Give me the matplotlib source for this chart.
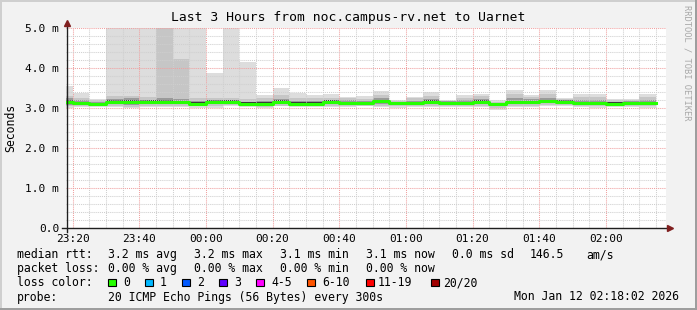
import datetime as dt
import matplotlib
matplotlib.use("Agg")
import matplotlib.pyplot as plt
import matplotlib.dates as mdates
from matplotlib.lines import Line2D
from matplotlib.patches import Rectangle
from matplotlib.ticker import MultipleLocator, FuncFormatter

W, H = 697, 310

# --- Données (ms), une valeur par tranche de 5 minutes à partir de 23:15 ---
debut = dt.datetime(2026, 1, 11, 23, 15)
t_fin = dt.datetime(2026, 1, 12, 2, 18, 2)
t_debut = t_fin - dt.timedelta(hours=3)

median = [3.16, 3.12, 3.11, 3.16, 3.16, 3.16, 3.16, 3.15, 3.11, 3.16, 3.16, 3.11,
          3.11, 3.16, 3.11, 3.11, 3.16, 3.13, 3.12, 3.17, 3.12, 3.12, 3.16, 3.13,
          3.13, 3.16, 3.09, 3.15, 3.14, 3.18, 3.16, 3.12, 3.12, 3.11, 3.12, 3.12]
p_max = [3.55, 3.37, 3.22, 5.5, 5.5, 5.5, 5.5, 5.5, 5.5, 3.87, 5.5, 4.14,
         3.32, 3.50, 3.37, 3.32, 3.34, 3.28, 3.30, 3.42, 3.20, 3.28, 3.40, 3.20,
         3.32, 3.36, 3.20, 3.44, 3.33, 3.45, 3.25, 3.34, 3.35, 3.23, 3.22, 3.34]
p_min = [3.00, 3.02, 3.03, 3.02, 2.99, 3.03, 3.02, 3.03, 3.00, 3.01, 3.05, 3.03,
         2.99, 3.04, 3.02, 3.03, 3.03, 3.03, 3.04, 3.03, 3.01, 3.02, 3.03, 3.02,
         3.02, 3.03, 2.96, 3.03, 3.03, 3.04, 3.04, 3.02, 3.01, 3.02, 3.02, 3.00]
p2_hi = [3.30, 3.24, 3.20, 3.30, 3.30, 3.28, 5.5, 4.22, 3.25, 3.24, 3.24, 3.22,
         3.24, 3.32, 3.26, 3.25, 3.26, 3.24, 3.22, 3.32, 3.18, 3.24, 3.30, 3.18,
         3.24, 3.30, 3.16, 3.34, 3.28, 3.34, 3.22, 3.27, 3.28, 3.20, 3.20, 3.28]
p2_lo = [3.05, 3.05, 3.05, 3.05, 3.03, 3.06, 3.05, 3.06, 3.04, 3.05, 3.07, 3.06,
         3.02, 3.06, 3.05, 3.05, 3.06, 3.06, 3.06, 3.06, 3.04, 3.05, 3.06, 3.05,
         3.05, 3.06, 3.00, 3.06, 3.06, 3.07, 3.07, 3.05, 3.05, 3.05, 3.05, 3.04]
q_hi = [3.24, 3.20, 3.16, 3.22, 3.24, 3.21, 3.24, 3.22, 3.18, 3.20, 3.20, 3.16,
        3.18, 3.22, 3.17, 3.17, 3.21, 3.20, 3.17, 3.24, 3.16, 3.18, 3.22, 3.17,
        3.20, 3.22, 3.13, 3.24, 3.22, 3.24, 3.20, 3.20, 3.20, 3.16, 3.17, 3.20]
q_lo = [3.08, 3.07, 3.07, 3.10, 3.08, 3.10, 3.10, 3.09, 3.07, 3.10, 3.10, 3.07,
        3.06, 3.10, 3.07, 3.08, 3.10, 3.08, 3.08, 3.10, 3.07, 3.08, 3.10, 3.08,
        3.08, 3.10, 3.04, 3.10, 3.09, 3.12, 3.10, 3.08, 3.08, 3.07, 3.08, 3.08]
c_hi = [3.19, 3.15, 3.13, 3.19, 3.19, 3.19, 3.19, 3.18, 3.14, 3.19, 3.19, 3.14,
        3.14, 3.19, 3.14, 3.14, 3.19, 3.16, 3.15, 3.20, 3.15, 3.15, 3.19, 3.16,
        3.16, 3.19, 3.11, 3.18, 3.17, 3.21, 3.19, 3.15, 3.15, 3.14, 3.15, 3.15]
c_lo = [3.13, 3.08, 3.09, 3.13, 3.13, 3.13, 3.13, 3.12, 3.08, 3.13, 3.13, 3.08,
        3.08, 3.13, 3.09, 3.09, 3.13, 3.10, 3.10, 3.14, 3.09, 3.10, 3.13, 3.10,
        3.10, 3.13, 3.06, 3.12, 3.11, 3.16, 3.13, 3.09, 3.10, 3.08, 3.09, 3.09]

titre = "Last 3 Hours from noc.campus-rv.net to Uarnet"
legende_rtt = [("median rtt:", 17), ("3.2 ms avg", 108), ("3.2 ms max", 194),
               ("3.1 ms min", 280), ("3.1 ms now", 366), ("0.0 ms sd", 452),
               ("146.5", 530), ("am/s", 586)]
legende_perte = [("packet loss:", 17), ("0.00 % avg", 108), ("0.00 % max", 194),
                 ("0.00 % min", 280), ("0.00 % now", 366)]
couleurs_perte = [("0", "#26ff00"), ("1", "#00b8ff"), ("2", "#0059ff"), ("3", "#5e00ff"),
                  ("4-5", "#ff00ff"), ("6-10", "#ff5500"), ("11-19", "#ff0000"),
                  ("20/20", "#a10000")]
pos_boites = [108, 145, 182, 219, 256, 307, 366, 431]
pos_textes = [123, 160, 197, 234, 271, 322, 378, 443]
sonde = "20 ICMP Echo Pings (56 Bytes) every 300s"
date_txt = "Mon Jan 12 02:18:02 2026"

plt.rcParams['font.family'] = ['DejaVu Sans Mono']

fig = plt.figure(figsize=(W / 100, H / 100), dpi=100)
fig.patch.set_facecolor("#f2f2f2")

def fx(x):
    return x / W

def fy(y):
    return 1 - y / H

ax = fig.add_axes([fx(66), fy(228), (666 - 66) / W, (228 - 28) / H])
ax.set_facecolor("white")
for s in ax.spines.values():
    s.set_visible(False)

# --- Fumée (bandes emboîtées) ---
largeur = 5 / 1440
gauches = [mdates.date2num(debut + dt.timedelta(minutes=5 * i)) for i in range(len(median))]
bandes = [(p_min, p_max, "#dddddd"), (p2_lo, p2_hi, "#c6c6c6"),
          (q_lo, q_hi, "#9a9a9a"), (c_lo, c_hi, "#3a3a3a")]
for bas, haut, col in bandes:
    ax.bar(gauches, [h - b for b, h in zip(bas, haut)], bottom=bas, width=largeur,
           align="edge", color=col, linewidth=0, antialiased=False, zorder=1)

# --- Médiane ---
bords = gauches + [gauches[-1] + largeur]
ax.step(bords, median + [median[-1]], where="post", color="#26ff00", lw=2.2, zorder=3)

ax.set_xlim(mdates.date2num(t_debut), mdates.date2num(t_fin))
ax.set_ylim(0, 5.0)

ax.yaxis.set_major_locator(MultipleLocator(1.0))
ax.yaxis.set_minor_locator(MultipleLocator(0.2))
ax.yaxis.set_major_formatter(FuncFormatter(lambda v, p: "0.0" if v == 0 else f"{v:.1f} m"))
ax.xaxis.set_major_locator(mdates.MinuteLocator(byminute=[0, 20, 40]))
ax.xaxis.set_minor_locator(mdates.MinuteLocator(byminute=range(0, 60, 5)))
ax.xaxis.set_major_formatter(mdates.DateFormatter("%H:%M"))

ax.set_axisbelow(False)
ax.grid(True, which="minor", color="#cfcfcf", lw=0.75, linestyle=(0, (1, 1)))
ax.grid(True, which="major", color="#f0a0a0", lw=0.75, linestyle=(0, (1, 1)))
ax.tick_params(which="both", length=0)
ax.tick_params(axis="y", pad=5, labelsize=8)
ax.tick_params(axis="x", pad=4, labelsize=8)

# --- Axes et flèches ---
fig.add_artist(Line2D([fx(62), fx(668)], [fy(228), fy(228)], color="#1f1f1f", lw=1.0))
fig.add_artist(Line2D([fx(66.5), fx(66.5)], [fy(232), fy(25)], color="#1f1f1f", lw=1.0))
fig.add_artist(Line2D([fx(670)], [fy(228)], marker=">", ms=4.5, color="#801f1f", mec="#801f1f"))
fig.add_artist(Line2D([fx(66.5)], [fy(23)], marker="^", ms=4.5, color="#801f1f", mec="#801f1f"))

# --- Textes ---
fig.text(fx(348), fy(18), titre, ha="center", va="center", fontsize=9.4)
fig.text(fx(10.5), fy(128), "Seconds", rotation=90, ha="center", va="center", fontsize=8.3)
fig.text(fx(687), fy(5), "RRDTOOL / TOBI OETIKER", rotation=270, ha="center", va="top",
         fontsize=6.3, color="#a8a8a8")

for txt, x in legende_rtt:
    fig.text(fx(x), fy(254.5), txt, ha="left", va="center", fontsize=8.3)
for txt, x in legende_perte:
    fig.text(fx(x), fy(268.5), txt, ha="left", va="center", fontsize=8.3)
fig.text(fx(17), fy(282.5), "loss color:", ha="left", va="center", fontsize=8.3)
for (txt, col), xb, xt in zip(couleurs_perte, pos_boites, pos_textes):
    fig.add_artist(Rectangle((fx(xb), fy(286)), 7.5 / W, 7.5 / H, facecolor=col,
                             edgecolor="black", lw=0.8, transform=fig.transFigure))
    fig.text(fx(xt), fy(282.5), txt, ha="left", va="center", fontsize=8.3)
fig.text(fx(17), fy(297), "probe:", ha="left", va="center", fontsize=8.3)
fig.text(fx(108), fy(297), sonde, ha="left", va="center", fontsize=8.3)
fig.text(fx(514), fy(297), date_txt, ha="left", va="center", fontsize=8.3)

# --- Cadre ---
fig.add_artist(Line2D([0, 1], [fy(0.7), fy(0.7)], color="#cfcfcf", lw=1.44))
fig.add_artist(Line2D([fx(0.7), fx(0.7)], [0, 1], color="#cfcfcf", lw=1.44))
fig.add_artist(Line2D([0, 1], [fy(H - 0.7), fy(H - 0.7)], color="#9e9e9e", lw=1.44))
fig.add_artist(Line2D([fx(W - 0.7), fx(W - 0.7)], [0, 1], color="#9e9e9e", lw=1.44))

fig.savefig("out.png", dpi=100, facecolor=fig.get_facecolor())
